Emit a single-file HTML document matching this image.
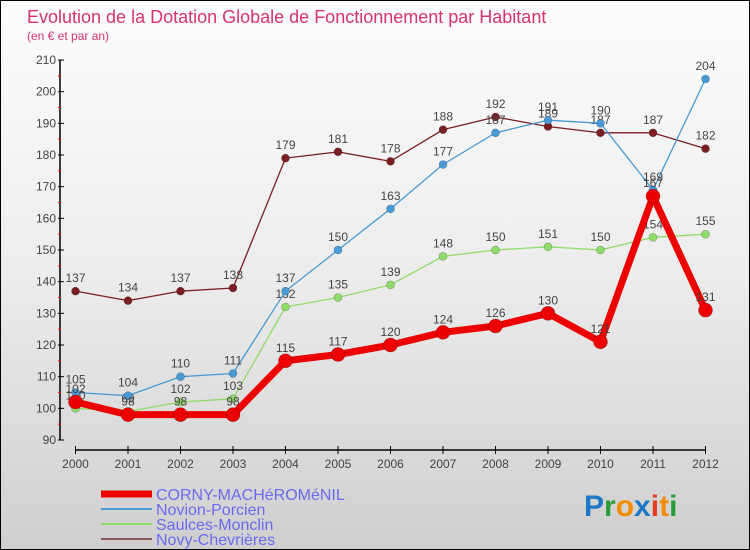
<!DOCTYPE html>
<html><head><meta charset="utf-8"><style>
html,body{margin:0;padding:0}
body{width:750px;height:550px;overflow:hidden;font-family:"Liberation Sans",sans-serif}
#wrap{position:relative;width:748px;height:548px;border:1px solid #000;background:linear-gradient(#fdfdfd,#ececec 50%,#cfcfcf)}
</style></head><body>
<div id="wrap">
<svg id="chart" width="748" height="548" style="position:absolute;left:0;top:0">
<text x="26" y="22" font-size="18" fill="#d6336c">Evolution de la Dotation Globale de Fonctionnement par Habitant</text>
<text x="26" y="39" font-size="12" fill="#d6336c">(en € et par an)</text>
<g id="axes"></g>
<g id="series"></g>
<g id="legend"></g>
<text x="583" y="515" font-size="30" font-weight="bold"><tspan fill="#1f77c8">P</tspan><tspan fill="#2a9d3a">r</tspan><tspan fill="#f28c00">o</tspan><tspan fill="#1f77c8">x</tspan><tspan fill="#e53b1f">i</tspan><tspan fill="#f28c00">t</tspan><tspan fill="#2a9d3a">i</tspan></text>
</svg>
</div>
<script>
const years=[2000,2001,2002,2003,2004,2005,2006,2007,2008,2009,2010,2011,2012];
const corny=[102,98,98,98,115,117,120,124,126,130,121,167,131];
const novion=[105,104,110,111,137,150,163,177,187,191,190,169,204];
const saulces=[100,99,102,103,132,135,139,148,150,151,150,154,155];
const novy=[137,134,137,138,179,181,178,188,192,189,187,187,182];
const yTicks=[90,100,110,120,130,140,150,160,170,180,190,200,210];
const names=["CORNY-MACHéROMéNIL","Novion-Porcien","Saulces-Monclin","Novy-Chevrières"];
const NS="http://www.w3.org/2000/svg";
function xS(i){return 74.5+i*(630/(years.length-1));}
function yS(v){return 439-(v-90)*(380/120);}
function mk(t,a,p){const e=document.createElementNS(NS,t);for(const k in a)e.setAttribute(k,a[k]);p.appendChild(e);return e;}
const ax=document.getElementById('axes');
let e=mk('line',{x1:59,y1:yS(210),x2:59,y2:yS(90),stroke:'#000','stroke-width':1.5},ax);


e=mk('line',{x1:74,y1:449,x2:705,y2:449,stroke:'#000','stroke-width':1.5},ax);


yTicks.forEach((v,i)=>{
  mk('line',{x1:57,y1:yS(v),x2:63,y2:yS(v),stroke:'#000'},ax);
  if(i<yTicks.length-1) mk('line',{x1:57,y1:yS(v+5),x2:60,y2:yS(v+5),stroke:'#f00'},ax);
  const t=mk('text',{x:55,y:yS(v)+4,'text-anchor':'end','font-size':12,fill:'#444'},ax);
  t.textContent=v;
  
  
});
years.forEach((y,i)=>{
  mk('line',{x1:xS(i),y1:445,x2:xS(i),y2:453,stroke:'#000'},ax);
  const t=mk('text',{x:xS(i),y:467,'text-anchor':'middle','font-size':12,fill:'#444'},ax);
  t.textContent=y;
  
  
});
const sg=document.getElementById('series');
const defs=[
 {d:novy,c:'#7a1e22',w:1.3,r:4,n:'novy-chevrieres-line'},
 {d:saulces,c:'#8fdc6a',w:1.3,r:4,n:'saulces-monclin-line'},
 {d:novion,c:'#4a9ad6',w:1.3,r:4,n:'novion-porcien-line'},
 {d:corny,c:'#ee0000',w:7,r:7,n:'corny-line'}];
defs.forEach(s=>{
  const g=mk('g',{},sg);
  
  
  const pts=s.d.map((v,i)=>xS(i)+','+yS(v)).join(' ');
  mk('polyline',{points:pts,fill:'none',stroke:s.c,'stroke-width':s.w,'stroke-linejoin':'round'},g);
  s.d.forEach((v,i)=>{
    const c=mk('circle',{cx:xS(i),cy:yS(v),r:s.r,fill:s.c,stroke:'rgba(0,0,0,0.3)','stroke-width':0.6},g);
    
    
    const t=mk('text',{x:xS(i),y:yS(v)-9,'text-anchor':'middle','font-size':12,fill:'#444'},g);
    t.textContent=v;
    
    
  });
});
const lg=document.getElementById('legend');
const lc=['#ee0000','#4a9ad6','#8fdc6a','#8a5a5a'],lw=[7,2,2,2];
names.forEach((n,i)=>{
  const y=493+i*15;
  const g=mk('g',{},lg);
  
  
  mk('line',{x1:100,y1:y,x2:151,y2:y,stroke:lc[i],'stroke-width':lw[i]},g);
  const t=mk('text',{x:155,y:y+6,'font-size':16,fill:'#6a6af0'},g);
  t.textContent=n;
});
</script>
</body></html>
